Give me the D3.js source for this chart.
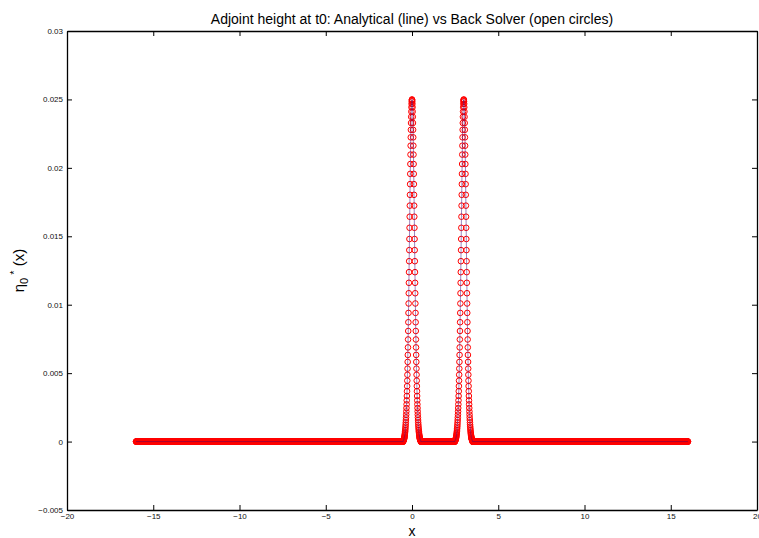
<!DOCTYPE html>
<html lang="en">
  <head>
    <meta charset="UTF-8" />
    <title>Adjoint height at t0</title>
    <style>
      body {
        margin: 0;
        background: #fff;
      }
      #chart text {
        font-family: "Liberation Sans", Arial, sans-serif;
      }
    </style>
  </head>
  <body>
    <div id="chart"></div>
    <script src="https://cdnjs.cloudflare.com/ajax/libs/d3/7.8.5/d3.min.js"></script>
    <script>
      // sampling grid of the solver (x from -16 to 16, step 1/128)
      var gridStart = -16;
      var gridEnd = 16;
      var gridPerUnit = 128;

      // both bumps sit here
      var peakCenters = [0, 3];

      // height at 0, 1, 2 ... grid steps away from a peak centre
      var peakProfile = [
        0.025, 0.02496, 0.02486, 0.02468, 0.02443, 0.02411, 0.02373, 0.02328,
        0.02278, 0.02223, 0.02162, 0.02097, 0.02028, 0.01956, 0.01881, 0.01803,
        0.01724, 0.01643, 0.01562, 0.0148, 0.01399, 0.01318, 0.01238, 0.0116,
        0.01084, 0.01009, 0.0094, 0.00872, 0.00808, 0.00746, 0.00688, 0.00633,
        0.00582, 0.00533, 0.00488, 0.00445, 0.00405, 0.00368, 0.00333, 0.00301,
        0.00272, 0.00245, 0.0022, 0.00197, 0.00176, 0.00157, 0.00139, 0.00123,
        0.00109, 0.00096, 0.00084, 0.00073, 0.00063, 0.00055, 0.00047, 0.0004,
        0.00034, 0.00029, 0.00024, 0.0002, 0.00017, 0.00014, 0.00011, 0.00009,
        0.00007,
      ];

      var xTicks = [-20, -15, -10, -5, 0, 5, 10, 15, 20];
      var yTicks = [-0.005, 0, 0.005, 0.01, 0.015, 0.02, 0.025, 0.03];
      var yTickLabels = ["\u22120.005", "0", "0.005", "0.01", "0.015", "0.02", "0.025", "0.03"];

      var W = 759,
        H = 538;
      var margin = { top: 31, right: 2, bottom: 28, left: 67 };
      var width = W - margin.left - margin.right;
      var height = H - margin.top - margin.bottom;

      // build the series from the grid + profile
      var series = [];
      for (var i = 0; i <= (gridEnd - gridStart) * gridPerUnit; i++) {
        var xv = gridStart + i / gridPerUnit;
        var yv = 0;
        peakCenters.forEach(function (c) {
          var k = Math.round(Math.abs(xv - c) * gridPerUnit);
          if (k < peakProfile.length) yv += peakProfile[k];
        });
        series.push({ x: xv, y: yv });
      }

      var svg = d3
        .select("#chart")
        .append("svg")
        .attr("width", W)
        .attr("height", H);

      var g = svg
        .append("g")
        .attr("transform", "translate(" + margin.left + "," + margin.top + ")");

      var x = d3.scaleLinear().domain([-20, 20]).range([0, width]);
      var y = d3.scaleLinear().domain([-0.005, 0.03]).range([height, 0]);

      // axes, MATLAB style ticks pointing inwards
      var fmtY = function (d) {
        return yTickLabels[yTicks.indexOf(d)];
      };

      var ax = [
        g.append("g").call(d3.axisLeft(y).tickValues(yTicks).tickFormat(fmtY).tickSize(-5).tickSizeOuter(0).tickPadding(4)),
        g.append("g").attr("transform", "translate(" + width + ",0)")
          .call(d3.axisRight(y).tickValues(yTicks).tickFormat("").tickSize(-5).tickSizeOuter(0)),
        g.append("g").attr("transform", "translate(0," + height + ")")
          .call(d3.axisBottom(x).tickValues(xTicks).tickFormat(d3.format("d")).tickSize(-5).tickSizeOuter(0).tickPadding(3)),
        g.append("g").call(d3.axisTop(x).tickValues(xTicks).tickFormat("").tickSize(-5).tickSizeOuter(0)),
      ];
      ax.forEach(function (a) {
        a.selectAll("text").style("font-size", "8px").attr("fill", "#111");
        a.selectAll("line").attr("stroke", "#000");
        a.select(".domain").attr("stroke", "#000").attr("stroke-width", 1.3);
      });

      // solver points, open circles
      g.append("g")
        .selectAll("circle")
        .data(series)
        .enter()
        .append("circle")
        .attr("cx", function (d) {
          return x(d.x);
        })
        .attr("cy", function (d) {
          return y(d.y);
        })
        .attr("r", 2.8)
        .attr("fill", "none")
        .attr("stroke", "#ff0000")
        .attr("stroke-width", 1);

      // analytical line
      var line = d3
        .line()
        .x(function (d) {
          return x(d.x);
        })
        .y(function (d) {
          return y(d.y);
        });

      g.append("path")
        .datum(series)
        .attr("d", line)
        .attr("fill", "none")
        .attr("stroke", "#401080")
        .attr("stroke-opacity", 0.5)
        .attr("stroke-width", 1);

      // title
      svg
        .append("text")
        .attr("x", margin.left + width / 2)
        .attr("y", 24)
        .attr("text-anchor", "middle")
        .style("font-size", "14px")
        .text("Adjoint height at t0: Analytical (line) vs Back Solver (open circles)");

      // x label
      svg
        .append("text")
        .attr("x", margin.left + width / 2)
        .attr("y", 536)
        .attr("text-anchor", "middle")
        .style("font-size", "14px")
        .text("x");

      // y label
      var yl = svg
        .append("text")
        .attr("transform", "translate(24," + (margin.top + height / 2) + ") rotate(-90)")
        .attr("text-anchor", "middle")
        .style("font-size", "15px");
      yl.append("tspan").text("\u03b7");
      yl.append("tspan").attr("dy", 4).style("font-size", "11px").text("0");
      yl.append("tspan").attr("dy", -10).style("font-size", "11px").text(" *");
      yl.append("tspan").attr("dy", 6).text(" (x)");
    </script>
  </body>
</html>
